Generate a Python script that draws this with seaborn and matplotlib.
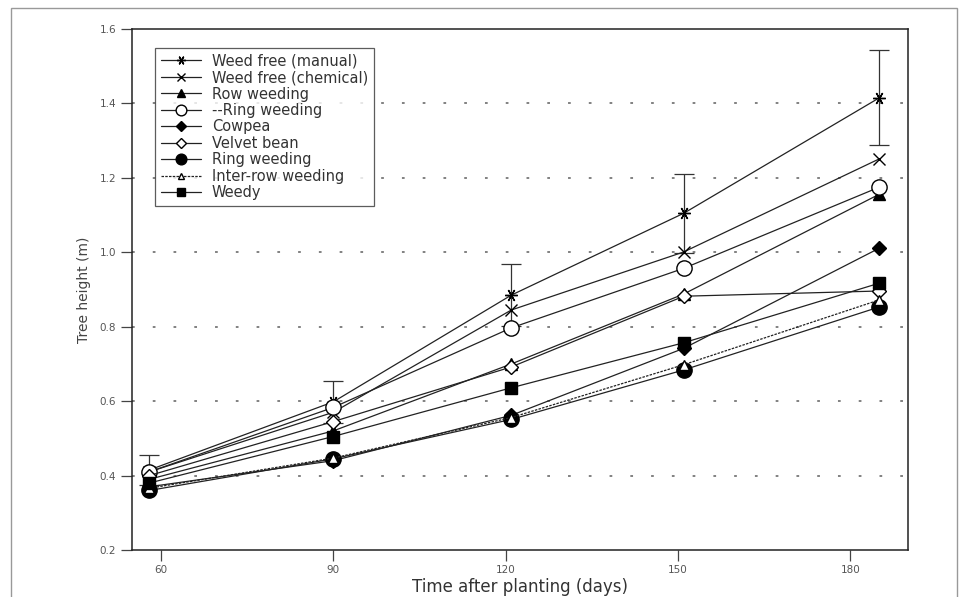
import matplotlib
matplotlib.use("Agg")
import matplotlib.pyplot as plt
import seaborn as sns
import pandas as pd
from matplotlib.patches import Rectangle

sns.set_theme(style="white")
plt.rcParams['font.family'] = ['DejaVu Sans']

days = [58, 90, 121, 151, 185]

series_names = [
    "Weed free (manual)",
    "Weed free (chemical)",
    "Row weeding",
    "--Ring weeding",
    "Cowpea",
    "Velvet bean",
    "Ring weeding",
    "Inter-row weeding",
    "Weedy",
]

weed_free_manual = [0.415, 0.598, 0.885, 1.105, 1.415]
weed_free_chemical = [0.41, 0.57, 0.845, 1.001, 1.251]
row_weeding = [0.39, 0.52, 0.70, 0.888, 1.156]
ring_weeding_open = [0.41, 0.583, 0.797, 0.957, 1.175]
cowpea = [0.37, 0.44, 0.562, 0.742, 1.011]
velvet_bean = [0.40, 0.545, 0.692, 0.882, 0.896]
ring_weeding_filled = [0.36, 0.445, 0.551, 0.684, 0.853]
inter_row_weeding = [0.366, 0.447, 0.556, 0.698, 0.872]
weedy = [0.38, 0.505, 0.636, 0.757, 0.917]

manual_err = [0.04, 0.057, 0.083, 0.106, 0.128]

values = [weed_free_manual, weed_free_chemical, row_weeding, ring_weeding_open,
          cowpea, velvet_bean, ring_weeding_filled, inter_row_weeding, weedy]

styles = {
    "Weed free (manual)": dict(marker=(6, 2, 90), ms=9, mfc="black", mec="black", mew=1.0, ls="-"),
    "Weed free (chemical)": dict(marker="x", ms=8, mfc="black", mec="black", mew=1.0, ls="-"),
    "Row weeding": dict(marker="^", ms=8, mfc="black", mec="black", mew=1.0, ls="-"),
    "--Ring weeding": dict(marker="o", ms=11, mfc="white", mec="black", mew=1.0, ls="-"),
    "Cowpea": dict(marker="D", ms=7, mfc="black", mec="black", mew=1.0, ls="-"),
    "Velvet bean": dict(marker="D", ms=7, mfc="white", mec="black", mew=1.0, ls="-"),
    "Ring weeding": dict(marker="o", ms=11, mfc="black", mec="black", mew=1.0, ls="-"),
    "Inter-row weeding": dict(marker="^", ms=7, mfc="white", mec="black", mew=1.0, ls=(0, (2, 1))),
    "Weedy": dict(marker="s", ms=8, mfc="black", mec="black", mew=1.0, ls="-"),
}

rows = []
for name, vals in zip(series_names, values):
    for d, v in zip(days, vals):
        rows.append({"series": name, "day": d, "height": v})
df = pd.DataFrame(rows)

fig = plt.figure(figsize=(9.6, 5.97), dpi=100)
ax = fig.add_axes([0.1375, 0.0787, 0.8083, 0.8727])

# grid lines
for gy in [0.4, 0.6, 0.8, 1.0, 1.2, 1.4]:
    ax.axhline(gy, color="#777777", lw=1.3, ls=(0, (1.5, 10)), zorder=0)

for name in series_names:
    st = styles[name]
    sub = df[df["series"] == name]
    sns.lineplot(data=sub, x="day", y="height", ax=ax, color="#222222",
                 linewidth=0.9, linestyle=st["ls"], marker=st["marker"],
                 markersize=st["ms"], markerfacecolor=st["mfc"],
                 markeredgecolor=st["mec"], markeredgewidth=st["mew"],
                 label=name, errorbar=None, zorder=3)

ax.errorbar(days, weed_free_manual, yerr=manual_err, fmt="none", ecolor="#333333",
            elinewidth=0.9, capsize=7, capthick=0.9, zorder=2)

ax.set_xlim(55, 190)
ax.set_ylim(0.2, 1.6)
ax.set_xticks([60, 90, 120, 150, 180])
ax.set_yticks([0.2, 0.4, 0.6, 0.8, 1.0, 1.2, 1.4, 1.6])
ax.set_yticklabels(["0.2", "0.4", "0.6", "0.8", "1.0", "1.2", "1.4", "1.6"])
ax.tick_params(axis="both", direction="out", length=8, width=0.9, color="#444444",
               labelsize=7.5, labelcolor="#555555", left=True, bottom=True)
ax.tick_params(axis="x", pad=3)
for sp in ax.spines.values():
    sp.set_color("#222222")
    sp.set_linewidth(1.1)

ax.set_xlabel("Time after planting (days)", fontsize=12, color="#333333", labelpad=2)
ax.set_ylabel("Tree height (m)", fontsize=10, color="#444444", labelpad=6)

leg = ax.legend(loc="upper left", bbox_to_anchor=(0.02, 0.978), frameon=True,
                fancybox=False, edgecolor="#333333", fontsize=10.5, labelspacing=0.1,
                handlelength=2.8, handletextpad=0.7, borderpad=0.4, markerscale=0.7)
leg.get_frame().set_linewidth(0.9)
for t in leg.get_texts():
    t.set_color("#333333")

# outer frame of the figure
fig.patches.append(Rectangle((0.011, -0.01), 0.986, 0.997, transform=fig.transFigure,
                             fill=False, edgecolor="#999999", lw=1.0))

fig.savefig("out.png", dpi=100)
